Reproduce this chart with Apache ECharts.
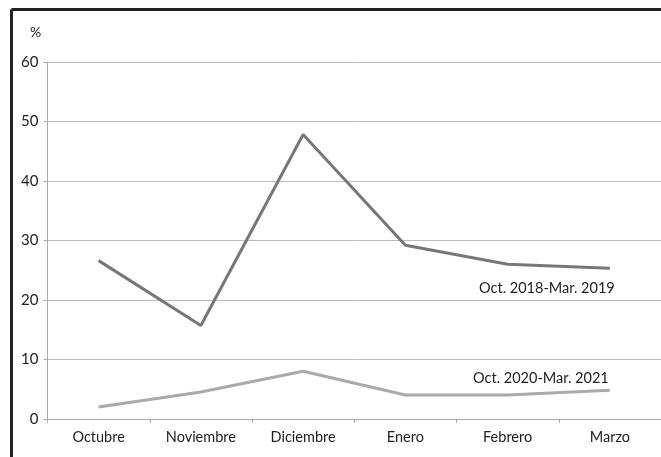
<!DOCTYPE html>
<html><head><meta charset="utf-8">
<script src="https://cdn.jsdelivr.net/npm/echarts@6/dist/echarts.min.js"></script>
<style>html,body{margin:0;padding:0;background:#fff}#c{width:661px;height:457px}</style>
</head><body><div id="c"></div>
<script>
const categories = ['Octubre','Noviembre','Diciembre','Enero','Febrero','Marzo'];
const series2019 = [26.6, 15.7, 47.8, 29.2, 26.0, 25.3];
const series2021 = [2.0, 4.5, 8.0, 4.0, 4.0, 4.8];
const yTicks = [0, 10, 20, 30, 40, 50, 60];
const name2019 = 'Oct. 2018-Mar. 2019';
const name2021 = 'Oct. 2020-Mar. 2021';
const FONT = 'Lato';
const chart = echarts.init(document.getElementById('c'), null, {renderer:'canvas'});
function endMark(data, text, offset){
  const last = data.length-1;
  return {symbol:'rect', symbolSize:1, itemStyle:{color:'rgba(0,0,0,0)'}, silent:true,
    data:[{coord:[categories[last], data[last]],
      label:{show:true, position:'inside', offset:offset, formatter:text, color:'#222', fontFamily:FONT, fontSize:14.5}}]};
}
chart.setOption({
  animation:false,
  graphic:[
    {type:'line', shape:{x1:11.5,y1:9.5,x2:661,y2:9.5}, style:{stroke:'#222',lineWidth:3}},
    {type:'line', shape:{x1:11.5,y1:9.5,x2:11.5,y2:457}, style:{stroke:'#222',lineWidth:3}},
    {type:'text', left:30, top:25, style:{text:'%', fill:'#222', font:'14px '+FONT}}
  ],
  grid:{left:47.5, top:62, width:614.5, bottom:38.2, containLabel:false},
  xAxis:{type:'category', data:categories, boundaryGap:true,
    axisLine:{lineStyle:{color:'#aaa'}},
    axisTick:{show:true, length:4, lineStyle:{color:'#aaa'}},
    axisLabel:{color:'#222', fontFamily:FONT, fontSize:14.5, margin:11}},
  yAxis:{type:'value', min:yTicks[0], max:yTicks[yTicks.length-1], interval:10,
    axisLine:{show:true, lineStyle:{color:'#aaa'}},
    axisTick:{show:true, length:4, lineStyle:{color:'#aaa'}},
    splitLine:{lineStyle:{color:'#bbb'}},
    axisLabel:{color:'#222', fontFamily:FONT, fontSize:15, margin:9}},
  series:[
    {type:'line', data:series2019, symbol:'none', lineStyle:{color:'#777', width:3}, itemStyle:{color:'#777'},
      markPoint:endMark(series2019, name2019, [-63,20])},
    {type:'line', data:series2021, symbol:'none', lineStyle:{color:'#aaa', width:3}, itemStyle:{color:'#aaa'},
      markPoint:endMark(series2021, name2021, [-69,-12])}
  ]
});
</script></body></html>
